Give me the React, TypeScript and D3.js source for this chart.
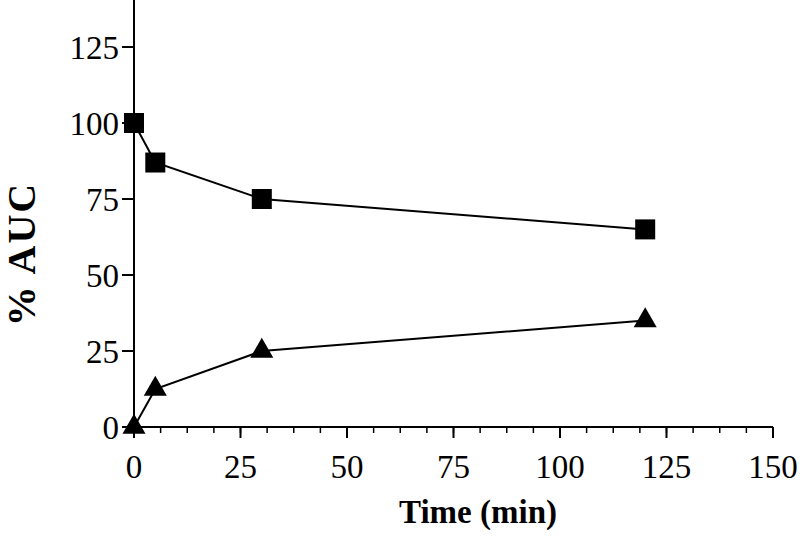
import React from "react";
import * as d3 from "d3";

const timeMin = [0, 5, 30, 120];
const squareSeries = [100, 87, 75, 65];
const triangleSeries = [0, 12.5, 25, 35];
const xTicks = [0, 25, 50, 75, 100, 125, 150];
const yTicks = [0, 25, 50, 75, 100, 125];

export default function App() {
  const W = 800, H = 542;
  const x = d3.scaleLinear().domain([0, 150]).range([134, 773]);
  const y = d3.scaleLinear().domain([0, 125]).range([427, 47]);
  const line = d3.line<[number, number]>().x(d => x(d[0])).y(d => y(d[1]));
  const sq = timeMin.map((t, i) => [t, squareSeries[i]] as [number, number]);
  const tri = timeMin.map((t, i) => [t, triangleSeries[i]] as [number, number]);
  const minor = d3.range(0, 150.01, 6.25);
  const triPath = d3.symbol().type(d3.symbolTriangle).size(230)()!;
  const font = "'Liberation Serif', 'Times New Roman', serif";
  return (
    <svg width={W} height={H} style={{ position: "absolute", left: 0, top: 0, background: "#fff" }}>
      <rect width={W} height={H} fill="#fff" />
      {/* axes */}
      <line x1={x(0)} x2={x(0)} y1={0} y2={y(0)} stroke="#000" strokeWidth={2} />
      <line x1={x(0)} x2={x(150)} y1={y(0)} y2={y(0)} stroke="#000" strokeWidth={2} />
      {yTicks.map(v => (
        <g key={"y" + v}>
          <line x1={x(0) - 12} x2={x(0)} y1={y(v)} y2={y(v)} stroke="#000" strokeWidth={2} />
          <text x={x(0) - 15} y={y(v)} dy="0.35em" textAnchor="end" fontFamily={font} fontSize={33}>{v}</text>
        </g>
      ))}
      {minor.map(v => (
        <line key={"m" + v} x1={x(v)} x2={x(v)} y1={y(0)} y2={y(0) + 6} stroke="#000" strokeWidth={1.5} />
      ))}
      {xTicks.map(v => (
        <g key={"x" + v}>
          <line x1={x(v)} x2={x(v)} y1={y(0)} y2={y(0) + 11} stroke="#000" strokeWidth={2} />
          <text x={x(v)} y={478} textAnchor="middle" fontFamily={font} fontSize={33}>{v}</text>
        </g>
      ))}
      <text x={478} y={523} textAnchor="middle" fontFamily={font} fontSize={33} fontWeight="bold">Time (min)</text>
      <text transform={`translate(35,254) rotate(-90)`} textAnchor="middle" fontFamily={font} fontSize={40} fontWeight="bold" letterSpacing={2}>% AUC</text>
      {/* series */}
      <path d={line(sq)!} fill="none" stroke="#000" strokeWidth={2} />
      <path d={line(tri)!} fill="none" stroke="#000" strokeWidth={2} />
      {sq.map((d, i) => (
        <rect key={"s" + i} x={x(d[0]) - 10} y={y(d[1]) - 10} width={20} height={20} fill="#000" />
      ))}
      {tri.map((d, i) => (
        <path key={"t" + i} d={triPath} transform={`translate(${x(d[0])},${y(d[1])})`} fill="#000" />
      ))}
    </svg>
  );
}
